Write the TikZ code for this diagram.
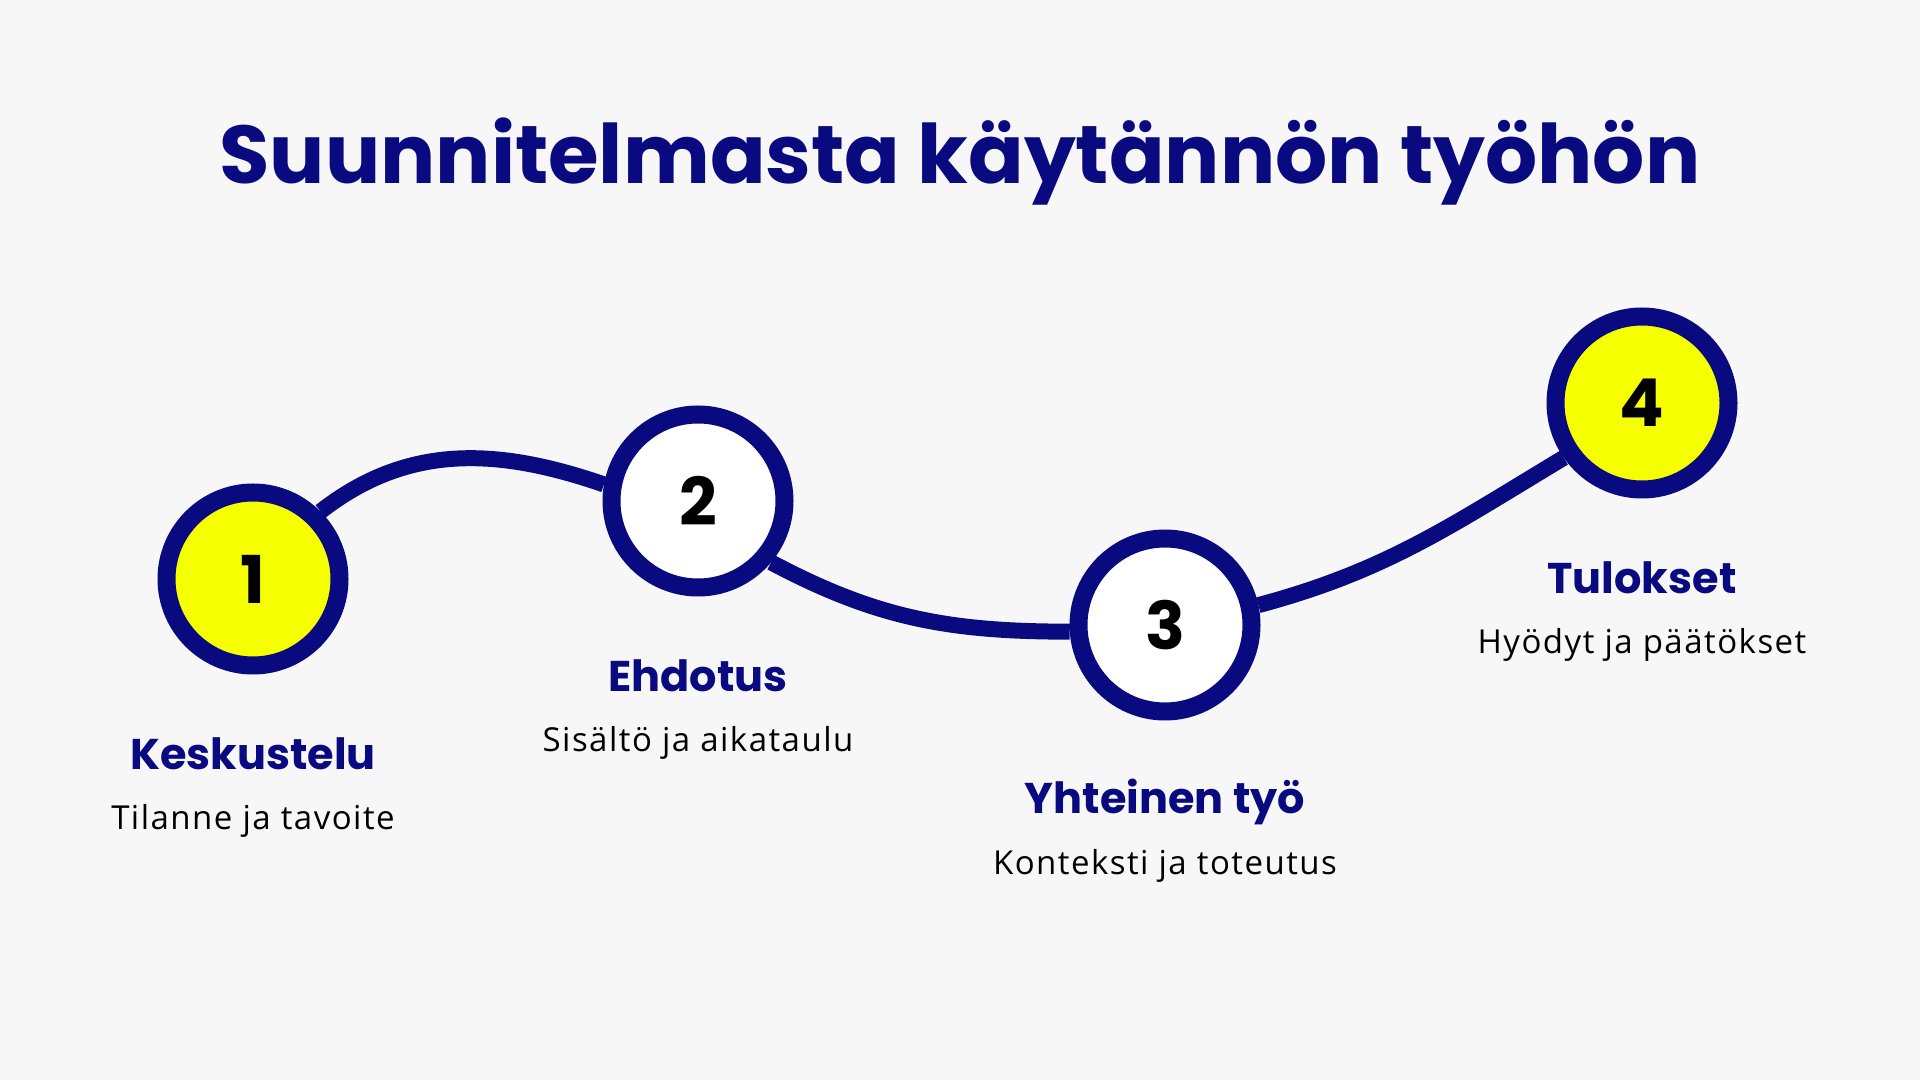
\documentclass[tikz,border=0pt]{standalone}
\usepackage{fontspec}
\newfontfamily\popfont{Poppins}
\newfontfamily\bodyfont{Open Sans}[LetterSpace=4.5]
\definecolor{navy}{RGB}{10,10,128}
\definecolor{bgc}{RGB}{247,247,247}
\definecolor{yel}{RGB}{246,255,0}
\pgfdeclarelayer{bgl}
\pgfdeclarelayer{lines}
\pgfsetlayers{bgl,lines,main}
\tikzset{
  stepcirc/.style={circle, draw=navy, line width=18pt, minimum size=173pt, inner sep=0pt,
    font=\popfont\bfseries\fontsize{66}{66}\selectfont, text=black},
  yelcirc/.style={stepcirc, fill=yel},
  whtcirc/.style={stepcirc, fill=white},
  conn/.style={draw=navy, line width=16pt},
  headlbl/.style={anchor=base, text=navy, font=\popfont\bfseries\fontsize{43}{43}\selectfont},
  sublbl/.style={anchor=base, text=black, font=\bodyfont\fontsize{33}{33}\selectfont},
  titlelbl/.style={anchor=base, text=navy, font=\popfont\bfseries\fontsize{82}{82}\selectfont}
}
\begin{document}
\begin{tikzpicture}[x=1pt,y=1pt]
\begin{pgfonlayer}{bgl}
\fill[bgc] (0,0) rectangle (1920,1080);
\end{pgfonlayer}
\useasboundingbox (0,0) rectangle (1920,1080);

\node[titlelbl] (title) at (960,896) {Suunnitelmasta käytännön työhön};

\node[yelcirc] (c1) at (253,501) {1};
\node[whtcirc] (c2) at (698,579) {2};
\node[whtcirc] (c3) at (1165,455) {3};
\node[yelcirc] (c4) at (1642,677) {4};

\begin{pgfonlayer}{lines}
\draw[conn] (c1.45) to[out=38,in=161] (c2.170);
\draw[conn] (c2.-40) to[out=-28,in=180] (c3.184);
\draw[conn] (c3.12) to[out=15,in=211] (c4.215);
\end{pgfonlayer}

\node[headlbl] (h1) at (253,310) {Keskustelu};
\node[sublbl] (s1) at (253,251) {Tilanne ja tavoite};
\node[headlbl] (h2) at (698,388) {Ehdotus};
\node[sublbl] (s2) at (698,328) {Sisältö ja aikataulu};
\node[headlbl] (h3) at (1165,266) {Yhteinen työ};
\node[sublbl] (s3) at (1165,206) {Konteksti ja toteutus};
\node[headlbl] (h4) at (1642,486) {Tulokset};
\node[sublbl] (s4) at (1642,426) {Hyödyt ja päätökset};
\end{tikzpicture}
\end{document}
